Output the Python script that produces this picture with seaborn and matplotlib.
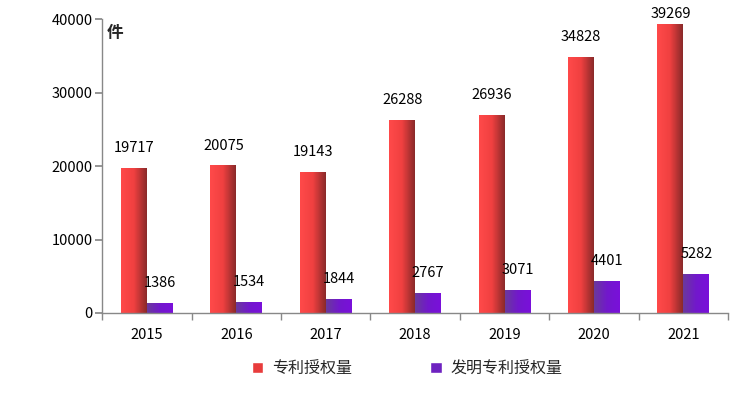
import matplotlib.pyplot as plt
import matplotlib.colors as mcolors
import seaborn as sns
import numpy as np
import pandas as pd
from matplotlib.patches import Patch

years = ['2015', '2016', '2017', '2018', '2019', '2020', '2021']
patents = [19717, 20075, 19143, 26288, 26936, 34828, 39269]
inventions = [1386, 1534, 1844, 2767, 3071, 4401, 5282]
series_names = ['专利授权量', '发明专利授权量']

df = pd.DataFrame({
    'year': years * 2,
    'value': patents + inventions,
    'series': [series_names[0]] * len(years) + [series_names[1]] * len(years),
})

sns.set_theme(style="white")
plt.rcParams['font.family'] = ['Noto Sans CJK SC', 'DejaVu Sans']

fig = plt.figure(figsize=(7.46, 3.98), dpi=100)
ax = fig.add_axes([0.137, 0.2136, 0.839, 0.7384])

sns.barplot(data=df, x='year', y='value', hue='series', width=0.58, gap=0,
            palette=['#e83c3c', '#6e22c0'], ax=ax, legend=False, saturation=1)

ymax = 40000
# gradients (left -> right)
grads = {
    0: mcolors.LinearSegmentedColormap.from_list('r', ['#ff4a4a', '#f04040', '#8a2a2a']),
    1: mcolors.LinearSegmentedColormap.from_list('p', ['#6a3a9c', '#7218cc', '#7a10da']),
}
grad_img = np.linspace(0, 1, 64).reshape(1, -1)
label_off = 2720   # roughly 20 px above bar top
label_cap = 40680  # Excel keeps labels inside the chart area
for i, container in enumerate(ax.containers):
    vals = patents if i == 0 else inventions
    for bar, v in zip(container, vals):
        x0, y0 = bar.get_x(), bar.get_y()
        w, h = bar.get_width(), bar.get_height()
        bar.set_facecolor('none')
        bar.set_edgecolor('none')
        im = ax.imshow(grad_img, cmap=grads[i], aspect='auto',
                       extent=[x0, x0 + w, y0, y0 + h], zorder=2)
        im.set_clip_path(bar)
        ax.text(x0 + w / 2, min(v + label_off, label_cap), str(v), ha='center', va='center',
                fontsize=10.5, color='black', clip_on=False)

ax.set_xlim(-0.5, 6.5)
ax.set_ylim(0, ymax)
ax.set_yticks([0, 10000, 20000, 30000, 40000])
ax.set_xlabel('')
ax.set_ylabel('')

for s in ['top', 'right']:
    ax.spines[s].set_visible(False)
for s in ['left', 'bottom']:
    ax.spines[s].set_color('#888888')
    ax.spines[s].set_linewidth(1)

ax.tick_params(axis='y', left=True, length=5, color='#888888', labelsize=10.5, labelcolor='black', pad=2)
ax.tick_params(axis='x', which='major', length=0, labelsize=10.5, labelcolor='black', pad=11)
ax.set_xticks(np.arange(-0.5, 7, 1), minor=True)
ax.tick_params(axis='x', which='minor', bottom=True, length=5, color='#888888')

ax.text(0.007, 0.952, '件', transform=ax.transAxes, fontsize=12, fontweight='bold', va='center', ha='left')

handles = [Patch(facecolor='#e83c3c', label=series_names[0]),
           Patch(facecolor='#6e22c0', label=series_names[1])]
fig.legend(handles=handles, loc='center', bbox_to_anchor=(0.546, 0.073), ncol=2, frameon=False,
           fontsize=11.5, handlelength=0.7, handleheight=0.7, handletextpad=0.55, columnspacing=4.9)

fig.savefig('out.png', dpi=100)
